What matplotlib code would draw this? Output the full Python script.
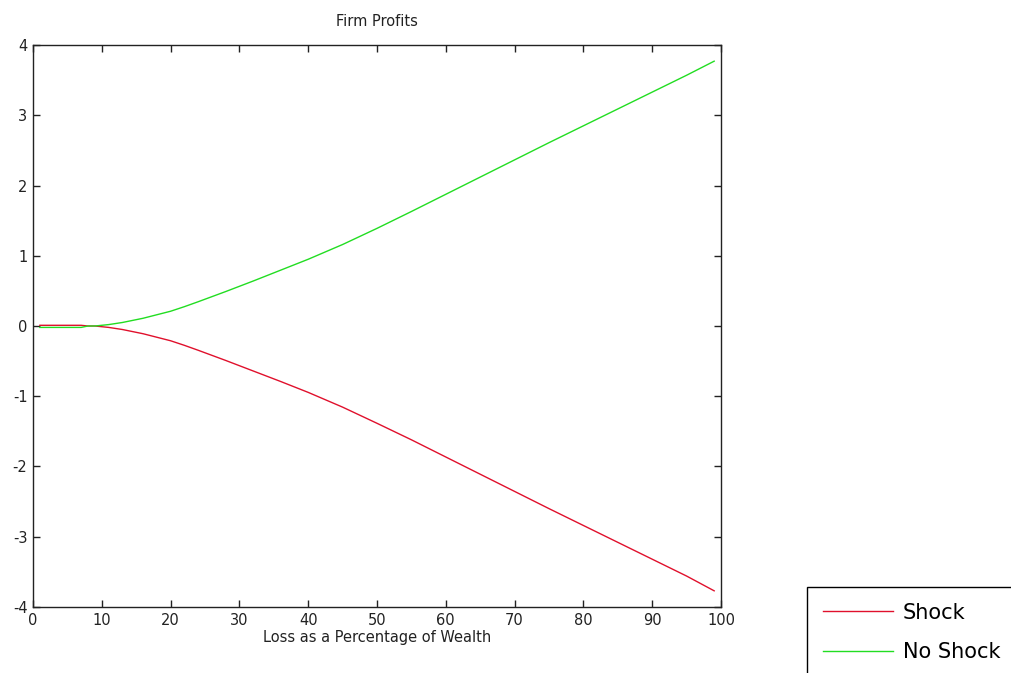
import matplotlib
matplotlib.use("Agg")
import matplotlib.pyplot as plt

plt.rcParams['font.family'] = ['DejaVu Sans']
plt.rcParams['axes.unicode_minus'] = False

# Loss as a percentage of wealth
loss = [1, 2, 3, 4, 5, 6, 7, 8, 9, 10, 11, 12, 13, 14, 15, 16, 17, 18, 19,
        20, 22, 24, 28, 32, 36, 40, 45, 50, 55, 60, 65, 70, 75, 80, 85, 90,
        95, 99]

# Firm profits under each scenario
shock = [0.01, 0.01, 0.01, 0.01, 0.01, 0.01, 0.01, 0.0, 0.0, -0.01, -0.02,
         -0.035, -0.05, -0.07, -0.09, -0.11, -0.135, -0.16, -0.185, -0.21,
         -0.275, -0.345, -0.49, -0.64, -0.79, -0.945, -1.155, -1.385, -1.62,
         -1.865, -2.11, -2.355, -2.60, -2.84, -3.08, -3.32, -3.56, -3.77]
no_shock = [-0.02, -0.02, -0.02, -0.02, -0.02, -0.02, -0.02, 0.0, 0.0, 0.01,
            0.02, 0.035, 0.05, 0.07, 0.09, 0.11, 0.135, 0.16, 0.185, 0.21,
            0.275, 0.345, 0.49, 0.64, 0.795, 0.95, 1.16, 1.39, 1.63, 1.875,
            2.12, 2.365, 2.61, 2.85, 3.09, 3.33, 3.57, 3.77]

x_ticks = list(range(0, 101, 10))
y_ticks = list(range(-4, 5))

fig = plt.figure(figsize=(10.11, 6.73), dpi=100)
ax = fig.add_axes([0.0326, 0.0981, 0.6806, 0.8350])

ax.plot(loss, shock, color='#e0102c', linewidth=1.0, label='Shock')
ax.plot(loss, no_shock, color='#22dd22', linewidth=1.0, label='No Shock')

ax.set_xlim(0, 100)
ax.set_ylim(-4, 4)
ax.set_xticks(x_ticks)
ax.set_yticks(y_ticks)
ax.tick_params(direction='in', length=5, width=1.0, top=True, right=True,
               labelsize=10.5, colors='#222222', pad=4)
for s in ax.spines.values():
    s.set_linewidth(1.0)
    s.set_color('#222222')

ax.set_title('Firm Profits', fontsize=10.5, pad=14, color='#222222')
ax.set_xlabel('Loss as a Percentage of Wealth', fontsize=10.5, labelpad=2,
              color='#222222')

leg = fig.legend(loc='upper left', bbox_to_anchor=(807 / 1011, 1 - 587 / 673),
                 bbox_transform=fig.transFigure, fontsize=15,
                 handlelength=3.4, handletextpad=0.45, labelspacing=0.95,
                 borderpad=0.75, borderaxespad=0, fancybox=False,
                 framealpha=1, edgecolor='black')
leg.get_frame().set_linewidth(1.0)

fig.savefig('out.png', dpi=100)
